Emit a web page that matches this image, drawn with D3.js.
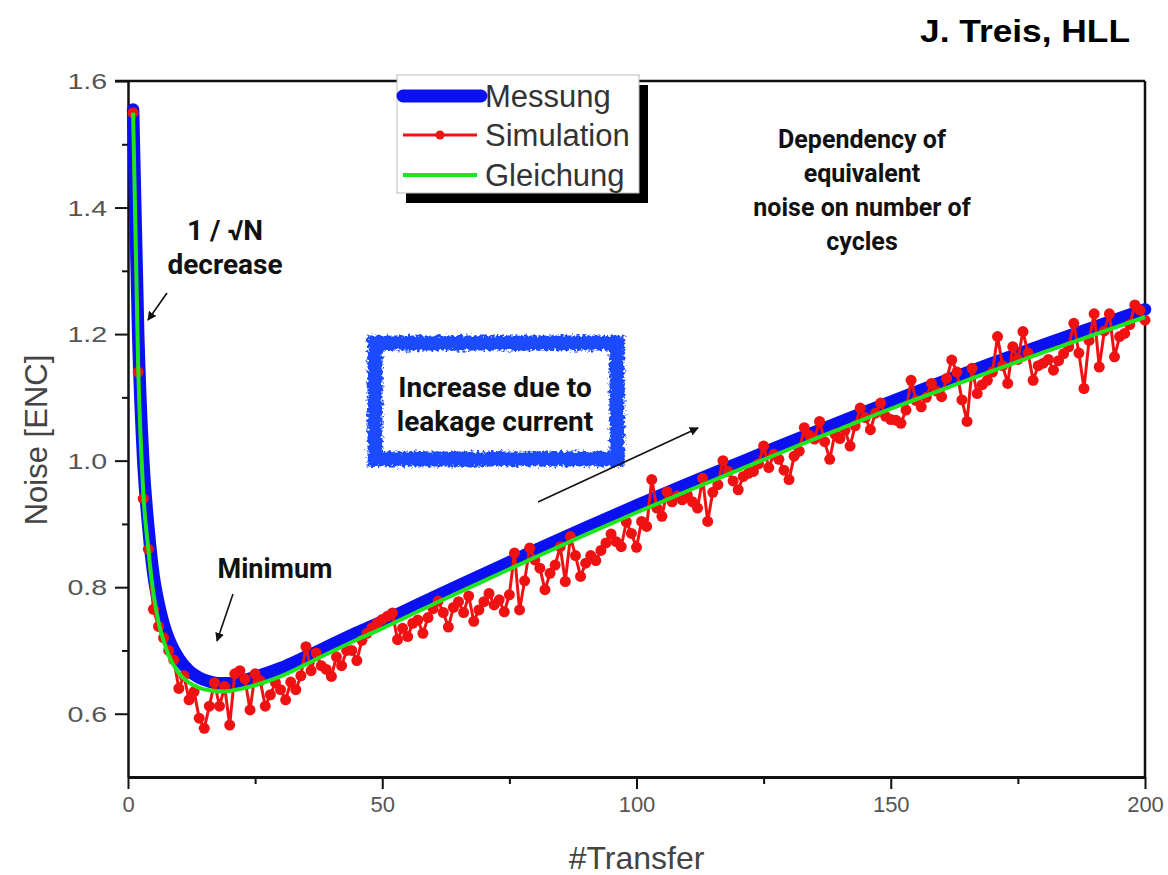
<!DOCTYPE html>
<html>
<head>
<meta charset="utf-8">
<script src="https://cdn.jsdelivr.net/npm/d3@7"></script>
<style>
  html, body { margin: 0; padding: 0; background: #fff; }
  svg { display: block; }
</style>
</head>
<body>
<svg id="chart" width="1168" height="875"></svg>
<script>
// Noise (ENC) versus number of transfers: measurement, simulation and analytic model.

// Measured curve ("Messung"), sampled along the transfer axis
const measTransfer = [1, 2, 3, 4, 5, 6, 7, 8, 10, 12, 14, 16, 18, 20, 22, 25, 30, 35, 40, 45, 50,
  60, 70, 80, 90, 100, 110, 120, 130, 140, 150, 160, 170, 180, 190, 200];
const measNoise = [1.555, 1.20, 1.00, 0.895, 0.82, 0.775, 0.742, 0.718, 0.687, 0.668, 0.657, 0.651,
  0.648, 0.648, 0.651, 0.658, 0.672, 0.690, 0.709, 0.728, 0.746,
  0.784, 0.821, 0.858, 0.894, 0.929, 0.963, 0.996, 1.029, 1.061, 1.093, 1.124, 1.154, 1.183, 1.211, 1.239];

// Analytic model ("Gleichung")
const eqTransfer = [1, 2, 3, 4, 5, 6, 7, 8, 10, 12, 14, 16, 18, 20, 22, 25, 30, 35, 40, 45, 50,
  60, 70, 80, 90, 100, 110, 120, 130, 140, 150, 160, 170, 180, 190, 200];
const eqNoise = [1.55, 1.15, 0.95, 0.86, 0.79, 0.745, 0.715, 0.692, 0.664, 0.649, 0.641, 0.637,
  0.635, 0.636, 0.639, 0.645, 0.659, 0.678, 0.698, 0.717, 0.735,
  0.773, 0.810, 0.847, 0.883, 0.918, 0.952, 0.985, 1.018, 1.050, 1.082, 1.112, 1.142, 1.171, 1.199, 1.227];

// Simulation ("Simulation"), one value per transfer 1..200
const simNoise = [
  1.550, 1.140, 0.940, 0.860, 0.765, 0.738, 0.720, 0.700, 0.685, 0.640,
  0.660, 0.622, 0.635, 0.593, 0.577, 0.612, 0.649, 0.612, 0.643, 0.582,
  0.663, 0.668, 0.655, 0.606, 0.663, 0.652, 0.612, 0.630, 0.649, 0.638,
  0.622, 0.650, 0.638, 0.660, 0.706, 0.668, 0.696, 0.676, 0.670, 0.659,
  0.690, 0.676, 0.700, 0.700, 0.684, 0.716, 0.727, 0.736, 0.743, 0.749,
  0.754, 0.759, 0.717, 0.735, 0.722, 0.743, 0.748, 0.727, 0.752, 0.766,
  0.778, 0.760, 0.737, 0.768, 0.777, 0.760, 0.786, 0.746, 0.764, 0.777,
  0.790, 0.772, 0.780, 0.761, 0.788, 0.854, 0.764, 0.810, 0.862, 0.843,
  0.830, 0.796, 0.822, 0.835, 0.864, 0.809, 0.880, 0.850, 0.817, 0.838,
  0.850, 0.842, 0.858, 0.870, 0.884, 0.872, 0.864, 0.903, 0.885, 0.863,
  0.904, 0.896, 0.970, 0.925, 0.912, 0.951, 0.935, 0.944, 0.938, 0.946,
  0.935, 0.925, 0.972, 0.904, 0.950, 0.962, 1.000, 0.983, 0.968, 0.954,
  0.975, 0.980, 0.983, 0.995, 1.023, 0.989, 1.010, 1.002, 0.985, 0.970,
  1.007, 1.015, 1.052, 1.040, 1.034, 1.062, 1.030, 1.002, 1.042, 1.035,
  1.048, 1.023, 1.055, 1.083, 1.068, 1.049, 1.075, 1.091, 1.070, 1.065,
  1.064, 1.059, 1.080, 1.127, 1.095, 1.085, 1.100, 1.122, 1.110, 1.101,
  1.130, 1.159, 1.140, 1.096, 1.062, 1.146, 1.106, 1.120, 1.127, 1.140,
  1.196, 1.150, 1.122, 1.180, 1.160, 1.204, 1.170, 1.127, 1.150, 1.154,
  1.160, 1.143, 1.158, 1.169, 1.180, 1.217, 1.170, 1.114, 1.190, 1.232,
  1.148, 1.205, 1.232, 1.164, 1.196, 1.201, 1.215, 1.246, 1.238, 1.222
];
const simTransfer = d3.range(1, simNoise.length + 1);

// Axis ticks
const xMajorTicks = [0, 50, 100, 150, 200];
const xMinorTicks = [25, 75, 125, 175];
const yMajorTicks = [0.6, 0.8, 1.0, 1.2, 1.4, 1.6];
const yMinorTicks = [0.7, 0.9, 1.1, 1.3, 1.5];

const legendItems = ["Messung", "Simulation", "Gleichung"];

const colors = { meas: "#0a10f0", sim: "#f01212", eq: "#1ee61e" };

const svg = d3.select("#chart");
const plot = { left: 128, right: 1145, top: 81, bottom: 777 };

const x = d3.scaleLinear().domain([0, 200]).range([plot.left, plot.right]);
const y = d3.scaleLinear().domain([0.5, 1.6]).range([plot.bottom, plot.top]);

const defs = svg.append("defs");
const rough = defs.append("filter").attr("id", "rough")
  .attr("x", "-10%").attr("y", "-20%").attr("width", "120%").attr("height", "140%");
rough.append("feTurbulence").attr("type", "fractalNoise").attr("baseFrequency", 0.35)
  .attr("numOctaves", 2).attr("seed", 7).attr("result", "noise");
rough.append("feDisplacementMap").attr("in", "SourceGraphic").attr("in2", "noise")
  .attr("scale", 8).attr("xChannelSelector", "R").attr("yChannelSelector", "G");

// Axes
const axisFont = "'Liberation Sans', Arial, sans-serif";

const yAxis = svg.append("g").attr("transform", `translate(${plot.left},0)`)
  .call(d3.axisLeft(y).tickValues(yMajorTicks).tickSize(13).tickSizeOuter(0)
    .tickFormat(d3.format(".1f")));
svg.append("g").attr("transform", `translate(${plot.left},0)`)
  .call(d3.axisLeft(y).tickValues(yMinorTicks).tickSize(6).tickSizeOuter(0).tickFormat(""))
  .call(g => g.select(".domain").remove());

const xAxis = svg.append("g").attr("transform", `translate(0,${plot.bottom})`)
  .call(d3.axisBottom(x).tickValues(xMajorTicks).tickSize(12).tickSizeOuter(0)
    .tickFormat(d3.format("d")));
svg.append("g").attr("transform", `translate(0,${plot.bottom})`)
  .call(d3.axisBottom(x).tickValues(xMinorTicks).tickSize(7).tickSizeOuter(0).tickFormat(""))
  .call(g => g.select(".domain").remove());

svg.selectAll(".tick line").attr("stroke", "#111").attr("stroke-width", 2);
yAxis.select(".domain").attr("stroke", "#111").attr("stroke-width", 2.5);
xAxis.select(".domain").attr("stroke", "#111").attr("stroke-width", 3);

// y tick labels are set in a horizontally widened face
yAxis.selectAll(".tick text")
  .attr("font-family", axisFont).attr("font-size", 22).attr("fill", "#555")
  .attr("x", -16).attr("dy", "0.34em").attr("transform", "scale(1.3,1)");
xAxis.selectAll(".tick text")
  .attr("font-family", axisFont).attr("font-size", 22).attr("fill", "#555")
  .attr("y", 19);

// Frame top and right
svg.append("line").attr("x1", plot.left - 13).attr("x2", plot.right)
  .attr("y1", plot.top).attr("y2", plot.top).attr("stroke", "#111").attr("stroke-width", 2.5);
svg.append("line").attr("x1", plot.right).attr("x2", plot.right)
  .attr("y1", plot.top).attr("y2", plot.bottom).attr("stroke", "#111").attr("stroke-width", 2.5);

// Axis titles
svg.append("text").attr("transform", `translate(47,440) rotate(-90)`)
  .attr("text-anchor", "middle").attr("font-family", axisFont).attr("font-size", 31)
  .attr("fill", "#444").text("Noise [ENC]");
svg.append("text").attr("x", (plot.left + plot.right) / 2).attr("y", 869)
  .attr("text-anchor", "middle").attr("font-family", axisFont).attr("font-size", 32)
  .attr("fill", "#444").text("#Transfer");

// Data series
const measLine = d3.line().x((d, i) => x(measTransfer[i])).y(d => y(d)).curve(d3.curveMonotoneX);
const eqLine = d3.line().x((d, i) => x(eqTransfer[i])).y(d => y(d)).curve(d3.curveMonotoneX);
const simLine = d3.line().x((d, i) => x(simTransfer[i])).y(d => y(d));

svg.append("path").datum(measNoise).attr("d", measLine)
  .attr("fill", "none").attr("stroke", colors.meas).attr("stroke-width", 12.5)
  .attr("stroke-linecap", "round").attr("stroke-linejoin", "round");

svg.append("path").datum(simNoise).attr("d", simLine)
  .attr("fill", "none").attr("stroke", colors.sim).attr("stroke-width", 3);
svg.append("g").selectAll("circle").data(simNoise).join("circle")
  .attr("cx", (d, i) => x(simTransfer[i])).attr("cy", d => y(d)).attr("r", 5.5)
  .attr("fill", colors.sim);

svg.append("path").datum(eqNoise).attr("d", eqLine)
  .attr("fill", "none").attr("stroke", colors.eq).attr("stroke-width", 4);

// Legend with drop shadow
const lg = svg.append("g").attr("transform", "translate(397,75)");
const lgW = 242, lgH = 118;
lg.append("rect").attr("x", 9).attr("y", 10).attr("width", lgW).attr("height", lgH).attr("fill", "#000");
lg.append("rect").attr("x", 0).attr("y", 0).attr("width", lgW).attr("height", lgH)
  .attr("fill", "#fff").attr("stroke", "#bbb").attr("stroke-width", 1);
const rowY = [21, 60, 100];
const legendRows = lg.selectAll("g.row").data(legendItems).join("g").attr("class", "row")
  .attr("transform", (d, i) => `translate(0,${rowY[i]})`);
legendRows.append("text").attr("x", 88).attr("y", 11).attr("font-family", axisFont)
  .attr("font-size", 31).attr("fill", "#333").text(d => d);
lg.append("line").attr("x1", 6).attr("x2", 84).attr("y1", rowY[0]).attr("y2", rowY[0])
  .attr("stroke", colors.meas).attr("stroke-width", 13).attr("stroke-linecap", "round");
lg.append("line").attr("x1", 6).attr("x2", 80).attr("y1", rowY[1]).attr("y2", rowY[1])
  .attr("stroke", colors.sim).attr("stroke-width", 3);
lg.append("circle").attr("cx", 43).attr("cy", rowY[1]).attr("r", 4.5).attr("fill", colors.sim);
lg.append("line").attr("x1", 6).attr("x2", 80).attr("y1", rowY[2]).attr("y2", rowY[2])
  .attr("stroke", colors.eq).attr("stroke-width", 4);

// Annotations
const noteFont = "Roboto, 'Open Sans', sans-serif";
defs.append("marker").attr("id", "arrow").attr("viewBox", "0 0 10 10").attr("refX", 9).attr("refY", 5)
  .attr("markerWidth", 9).attr("markerHeight", 9).attr("markerUnits", "userSpaceOnUse")
  .attr("orient", "auto")
  .append("path").attr("d", "M0,0 L10,5 L0,10 z").attr("fill", "#111");

function note(lines, cx, baseline, size, lineGap) {
  const t = svg.append("text").attr("text-anchor", "middle").attr("font-family", noteFont)
    .attr("font-weight", 700).attr("font-size", size).attr("fill", "#111");
  lines.forEach((s, i) => t.append("tspan").attr("x", cx).attr("y", baseline + i * lineGap).text(s));
}
function arrow(x1, y1, x2, y2) {
  svg.append("line").attr("x1", x1).attr("y1", y1).attr("x2", x2).attr("y2", y2)
    .attr("stroke", "#111").attr("stroke-width", 1.6).attr("marker-end", "url(#arrow)");
}

note(["1 / \u221AN", "decrease"], 225, 240, 28, 33.5);
arrow(167, 293, 148, 320);

note(["Minimum"], 275, 578, 27, 0);
arrow(233, 594, 217, 641);

// Hand-drawn style frame around the leakage note
svg.append("rect").attr("x", 375).attr("y", 343).attr("width", 242).attr("height", 116)
  .attr("fill", "#fff").attr("stroke", "#1a4cff").attr("stroke-width", 15)
  .attr("filter", "url(#rough)");
note(["Increase due to", "leakage current"], 495, 397, 28, 33.5);
arrow(538, 502, 698, 428);

note(["Dependency of", "equivalent", "noise on number of", "cycles"], 862, 148, 25, 34);

svg.append("text").attr("x", 1130).attr("y", 42).attr("text-anchor", "end")
  .attr("font-family", axisFont).attr("font-weight", 700).attr("font-size", 31)
  .attr("textLength", 210).attr("lengthAdjust", "spacingAndGlyphs")
  .attr("fill", "#000").text("J. Treis, HLL");
</script>
</body>
</html>
